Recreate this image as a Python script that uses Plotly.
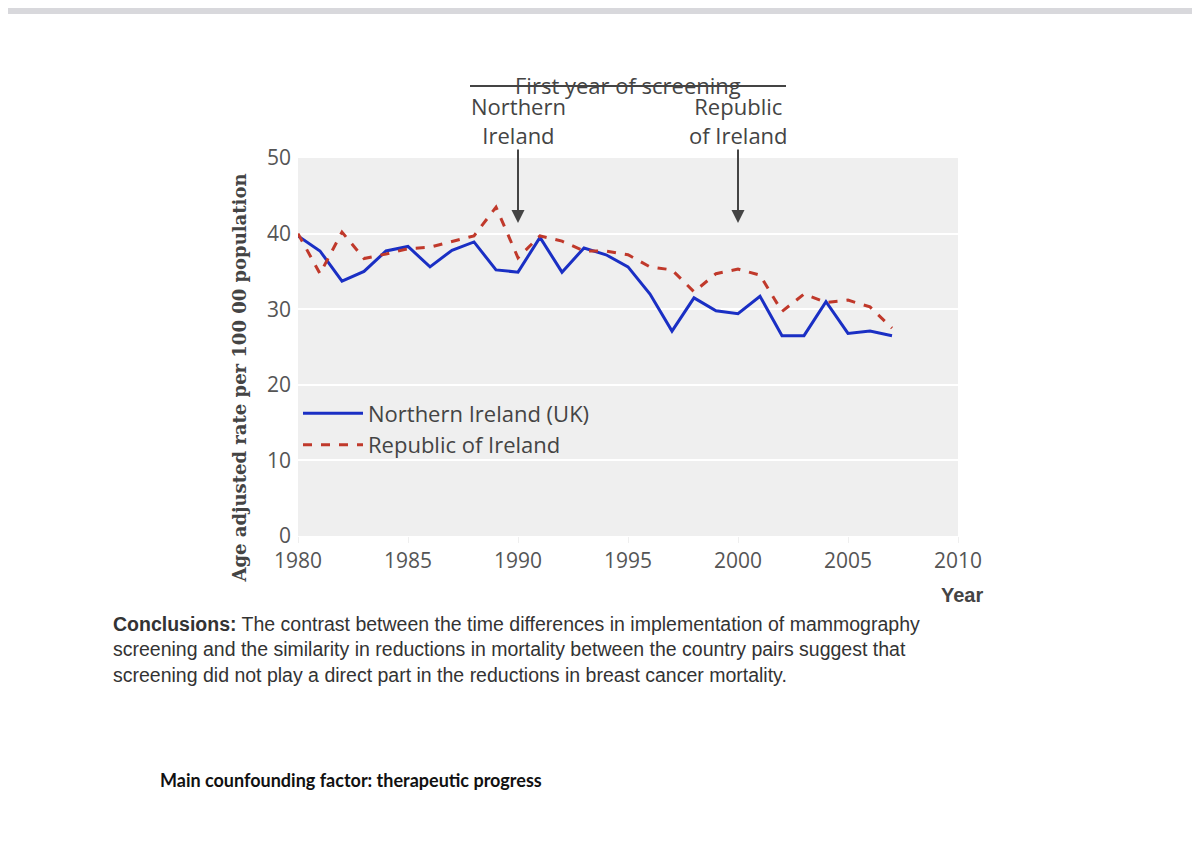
import plotly.graph_objects as go

years = list(range(1980, 2008))
ni = [39.7,37.7,33.7,35.0,37.7,38.3,35.6,37.8,38.9,35.2,34.9,39.5,34.9,38.1,37.2,
      35.6,32.0,27.1,31.5,29.8,29.4,31.7,26.5,26.5,31.0,26.8,27.1,26.5]
roi = [40.0,34.7,40.2,36.7,37.3,38.0,38.2,38.9,39.7,43.5,36.8,39.7,39.0,37.7,37.7,
       37.2,35.6,35.2,32.3,34.7,35.3,34.5,29.7,32.0,30.9,31.2,30.3,27.5]
xticks = [1980,1985,1990,1995,2000,2005,2010]
yticks = [0,10,20,30,40,50]
screen_years = {"Northern<br>Ireland": 1990, "Republic<br>of Ireland": 2000}

fig = go.Figure()
fig.add_trace(go.Scatter(x=years, y=ni, mode="lines", name="Northern Ireland (UK)",
                         line=dict(color="#1a2fc4", width=3)))
fig.add_trace(go.Scatter(x=years, y=roi, mode="lines", name="Republic of Ireland",
                         line=dict(color="#c0392b", width=3, dash="dash")))

W, H = 1200, 851
L, R, T, B = 290, 250, 150, 323
def px(x): return (x - L) / (W - L - R)
def py(y): return 1 - (y - T) / (H - T - B)

ann = []
shapes = []
for label, yr in screen_years.items():
    ann.append(dict(x=yr, y=py(112), xref="x", yref="paper", text=label, showarrow=False,
                    font=dict(family="Open Sans", size=22, color="#444"), yanchor="middle"))
    ann.append(dict(x=yr, y=py(215), xref="x", yref="paper", ax=0, ay=-75,
                    axref="pixel", ayref="pixel", text="", showarrow=True, arrowhead=2,
                    arrowsize=1.3, arrowwidth=2, arrowcolor="#444"))
ann.append(dict(x=px(620), y=py(60), xref="paper", yref="paper", text="First year of screening",
                showarrow=False, font=dict(family="Open Sans", size=22, color="#444")))
shapes.append(dict(type="line", xref="paper", yref="paper", x0=px(462), x1=px(778),
                   y0=py(78), y1=py(78), line=dict(color="#444", width=2)))
shapes.append(dict(type="rect", xref="paper", yref="paper", x0=px(0), x1=px(1200),
                   y0=py(0), y1=py(6), line=dict(width=0), fillcolor="#d8d8dc"))
ann.append(dict(x=px(218), y=py(370), xref="paper", yref="paper",
                text="<b>Age adjusted rate per 100 00 population</b>", textangle=-90,
                showarrow=False, font=dict(family="DejaVu Serif", size=18, color="#444")))
ann.append(dict(x=px(977), y=py(600), xref="paper", yref="paper", text="<b>Year</b>",
                xanchor="right", showarrow=False,
                font=dict(family="Liberation Sans", size=20, color="#444")))
ann.append(dict(x=px(103), y=py(680), xref="paper", yref="paper", xanchor="left",
                align="left", showarrow=False,
                text=("<b>Conclusions:</b> The contrast between the time differences in implementation of mammography<br>"
                      "screening and the similarity in reductions in mortality between the country pairs suggest that<br>"
                      "screening did not play a direct part in the reductions in breast cancer mortality."),
                font=dict(family="Liberation Sans", size=19.5, color="#333")))
ann.append(dict(x=px(150), y=py(785), xref="paper", yref="paper", xanchor="left",
                showarrow=False, text="<b>Main counfounding factor: therapeutic progress</b>",
                font=dict(family="Lato", size=18, color="#111")))

fig.update_layout(
    width=W, height=H, margin=dict(l=L, r=R, t=T, b=B),
    paper_bgcolor="white", plot_bgcolor="#efefef",
    showlegend=True,
    legend=dict(x=0.0, y=0.38, xanchor="left", yanchor="top", bgcolor="rgba(0,0,0,0)",
                font=dict(family="Open Sans", size=22, color="#444"), itemwidth=60),
    xaxis=dict(range=[1980, 2010], tickvals=xticks, showgrid=False, zeroline=False,
               tickfont=dict(family="Open Sans", size=21, color="#555"), ticks="outside",
               ticklen=6, tickcolor="#efefef"),
    yaxis=dict(range=[0, 50], tickvals=yticks, gridcolor="white", gridwidth=2,
               zeroline=False, tickfont=dict(family="Open Sans", size=21, color="#555"),
               ticklabelstandoff=6),
    annotations=ann, shapes=shapes,
)
fig.write_html("out.html")
